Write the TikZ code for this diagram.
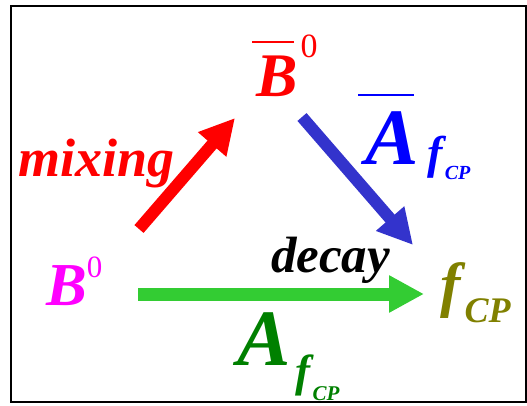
\documentclass[tikz,border=0pt]{standalone}
\usepackage{fontspec}
\setmainfont{Liberation Serif}
\usetikzlibrary{arrows.meta}
\definecolor{arrred}{HTML}{FF0000}
\definecolor{arrblue}{HTML}{3333CC}
\definecolor{arrgreen}{HTML}{33CC33}
\definecolor{txtblue}{HTML}{0000FF}
\definecolor{txtgreen}{HTML}{008000}
\definecolor{txtolive}{HTML}{808000}
\definecolor{txtmag}{HTML}{FF00FF}
\newcommand\fs[1]{\fontsize{#1}{#1}\selectfont}
\tikzset{
  lbl/.style={inner sep=0pt, anchor=base west, font=\bfseries\itshape},
  fatarrow/.style={line width=#1, -{Triangle[length=35pt,width=35pt]}},
}
\begin{document}
\begin{tikzpicture}[x=1pt,y=-1pt]
\useasboundingbox (0,0) rectangle (527,406);
\draw[line width=2pt] (11,6) rectangle (526,402);
% labels
\node[lbl, text=arrred] (Bbar) at (256,97) {\fs{62}\rlap{\hspace{-4pt}\rule[54pt]{42pt}{2pt}}B\hspace{3pt}\raisebox{39pt}{\fs{34}\normalfont 0}};
\node[lbl, text=txtmag] (B) at (46,305) {\fs{61}B\raisebox{28pt}{\fs{31}\normalfont 0}};
\node[lbl, text=txtolive] (f) at (440,305) {\fs{61}f\hspace{4pt}\raisebox{-17pt}{\fs{36}CP}};
\node[lbl, text=arrred] (mix) at (18,177) {\fs{54}mixing};
\node[lbl, text=black] (dec) at (271,272) {\fs{51}decay};
\node[lbl, text=txtblue] (Abar) at (365,165) {\fs{80}\rlap{\hspace{-7pt}\rule[69pt]{56pt}{2pt}}A\hspace{9pt}\raisebox{-3pt}{\fs{46}f\hspace{2pt}\raisebox{-12pt}{\fs{20}CP}}};
\node[lbl, text=txtgreen] (A) at (237,365) {\fs{80}A\hspace{5pt}\raisebox{-21pt}{\fs{45}f\hspace{2pt}\raisebox{-14pt}{\fs{21}CP}}};
% arrows
\coordinate (r0) at (139,229);
\coordinate (r1) at (235,118);
\coordinate (b0) at (302,117);
\coordinate (b1) at (413,245);
\coordinate (g0) at (138,294);
\coordinate (g1) at (424,294);
\draw[fatarrow=12pt, draw=arrred, fill=arrred] (r0) -- (r1);
\draw[fatarrow=12pt, draw=arrblue, fill=arrblue] (b0) -- (b1);
\draw[fatarrow=13pt, draw=arrgreen, fill=arrgreen] (g0) -- (g1);
\end{tikzpicture}
\end{document}
